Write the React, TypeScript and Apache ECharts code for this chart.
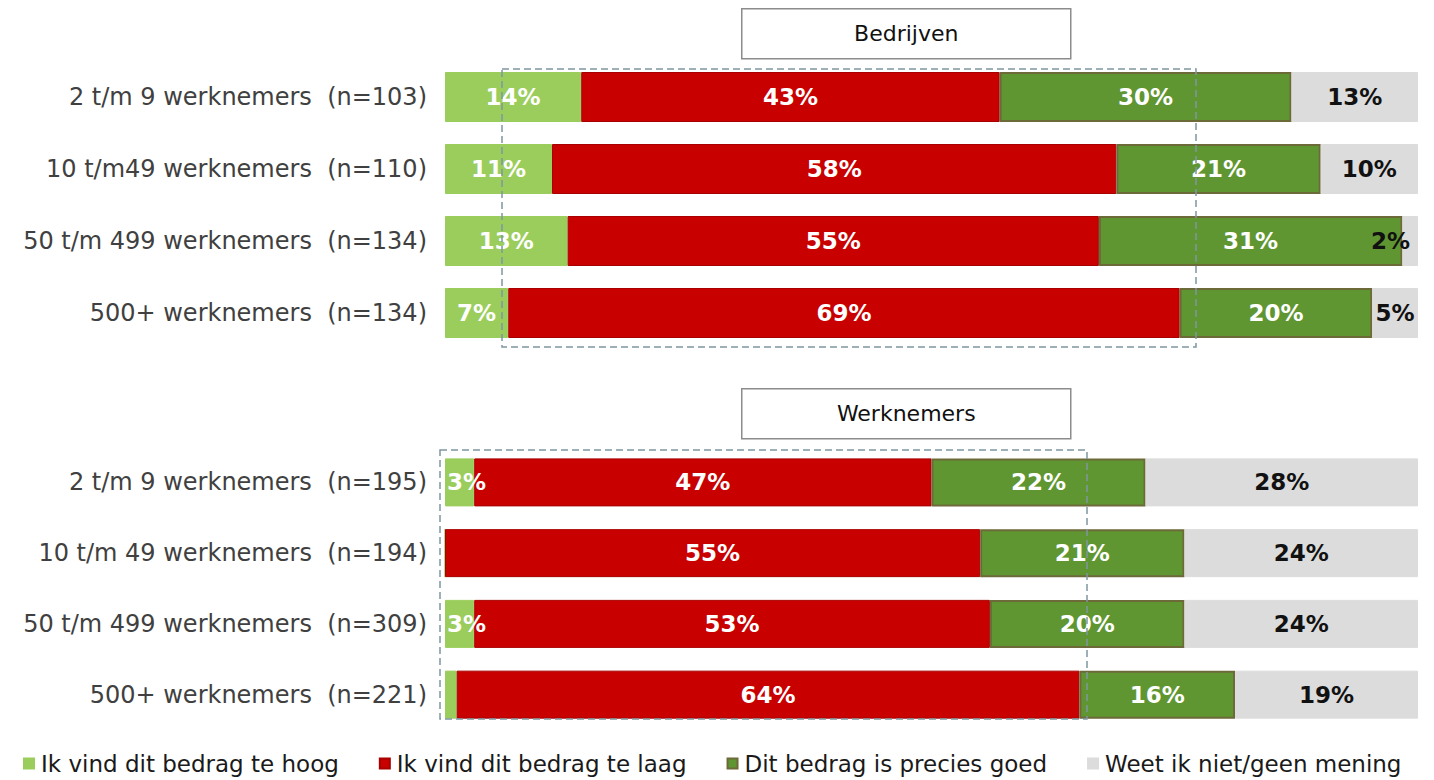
import React, { useEffect, useRef } from "react";
import * as echarts from "echarts";

const topCategories = [
  "2 t/m 9 werknemers  (n=103)",
  "10 t/m49 werknemers  (n=110)",
  "50 t/m 499 werknemers  (n=134)",
  "500+ werknemers  (n=134)",
];
const bottomCategories = [
  "2 t/m 9 werknemers  (n=195)",
  "10 t/m 49 werknemers  (n=194)",
  "50 t/m 499 werknemers  (n=309)",
  "500+ werknemers  (n=221)",
];
const seriesNames = [
  "Ik vind dit bedrag te hoog",
  "Ik vind dit bedrag te laag",
  "Dit bedrag is precies goed",
  "Weet ik niet/geen mening",
];
const panelTitles = ["Bedrijven", "Werknemers"];

// Bedrijven
const topHigh = [14, 11, 12.6, 6.5];
const topLow = [43, 58, 54.6, 69];
const topGood = [30, 21, 31.2, 19.8];
const topUnknown = [13, 10, 1.6, 4.7];

// Werknemers
const bottomHigh = [3, 0, 3, 1.2];
const bottomLow = [47, 55, 53, 64];
const bottomGood = [22, 21, 20, 16];
const bottomUnknown = [28, 24, 24, 18.8];

const colors = ["#9bcd5c", "#c80000", "#609632", "#dcdcdc"];
const borders = ["#9bcd5c", "#a80000", "#6c6a38", "#dcdcdc"];
const labelColors = ["#ffffff", "#ffffff", "#ffffff", "#111111"];

const FONT = "'DejaVu Sans', 'Open Sans', sans-serif";

export default function App() {
  const ref = useRef<HTMLDivElement>(null);

  useEffect(() => {
    if (!ref.current) return;
    const chart = echarts.init(ref.current, undefined, { renderer: "svg" });

    const topData = [topHigh, topLow, topGood, topUnknown];
    const bottomData = [bottomHigh, bottomLow, bottomGood, bottomUnknown];

    const itemLabel = (i: number, v: number) => {
      if (i === 0 && v < 5) return { position: "insideLeft", distance: 2 };
      if (i === 3 && v < 3) return { position: "insideRight", distance: 8 };
      return {};
    };

    const makeSeries = (data: number[][], gridIndex: number, barWidth: number) =>
      data.map((vals, i) => ({
        name: seriesNames[i],
        type: "bar",
        stack: "s" + gridIndex,
        xAxisIndex: gridIndex,
        yAxisIndex: gridIndex,
        barWidth,
        itemStyle: { color: colors[i], borderColor: borders[i], borderWidth: i === 2 ? 2 : 1 },
        label: {
          show: true,
          position: "inside",
          color: labelColors[i],
          fontFamily: FONT,
          fontSize: 23,
          fontWeight: "bold",
          formatter: (p: any) => (p.value < 1.5 ? "" : Math.round(p.value) + "%"),
        },
        data: vals.map((v) => ({ value: v, label: itemLabel(i, v) })),
      }));

    const yAxisBase = {
      type: "category",
      inverse: true,
      axisLine: { show: false },
      axisTick: { show: false },
      axisLabel: {
        fontFamily: FONT,
        fontSize: 24,
        color: "#404040",
        margin: 18,
      },
    };
    const xAxisBase = {
      type: "value",
      min: 0,
      max: 100,
      show: false,
    };

    const titleBox = (text: string, y: number) => ({
      type: "group",
      left: 741,
      top: y,
      children: [
        {
          type: "rect",
          shape: { x: 0, y: 0, width: 329, height: 50 },
          style: { fill: "#fff", stroke: "#8c8c8c", lineWidth: 1.5 },
        },
        {
          type: "text",
          x: 164.5,
          y: 25,
          style: {
            text,
            fill: "#111",
            font: `22px ${FONT}`,
            align: "center",
            verticalAlign: "middle",
          },
        },
      ],
    });

    const dashedBox = (x: number, y: number, w: number, h: number) => ({
      type: "rect",
      z: 100,
      shape: { x, y, width: w, height: h },
      style: { fill: "none", stroke: "#7f97a0", lineWidth: 1.5, lineDash: [7, 4] },
    });

    chart.setOption({
      animation: false,
      textStyle: { fontFamily: FONT },
      grid: [
        { left: 445, right: 16, top: 61, height: 288 },
        { left: 445, right: 16, top: 447, height: 283 },
      ],
      legend: {
        left: 18,
        top: 747,
        itemWidth: 10,
        itemHeight: 10,
        itemGap: 40,
        icon: "rect",
        data: seriesNames,
        textStyle: { fontFamily: FONT, fontSize: 23, color: "#1a1a1a", padding: [0, 0, 0, 2] },
      },
      xAxis: [
        { ...xAxisBase, gridIndex: 0 },
        { ...xAxisBase, gridIndex: 1 },
      ],
      yAxis: [
        { ...yAxisBase, gridIndex: 0, data: topCategories },
        { ...yAxisBase, gridIndex: 1, data: bottomCategories },
      ],
      series: [...makeSeries(topData, 0, 50), ...makeSeries(bottomData, 1, 48)],
      graphic: [
        titleBox(panelTitles[0], 8),
        titleBox(panelTitles[1], 388),
        dashedBox(502, 69, 694, 278),
        dashedBox(440, 450, 647, 269),
      ],
    });

    return () => chart.dispose();
  }, []);

  return (
    <div
      ref={ref}
      style={{ position: "fixed", left: 0, top: 0, width: 1434, height: 780, background: "#fff" }}
    />
  );
}
